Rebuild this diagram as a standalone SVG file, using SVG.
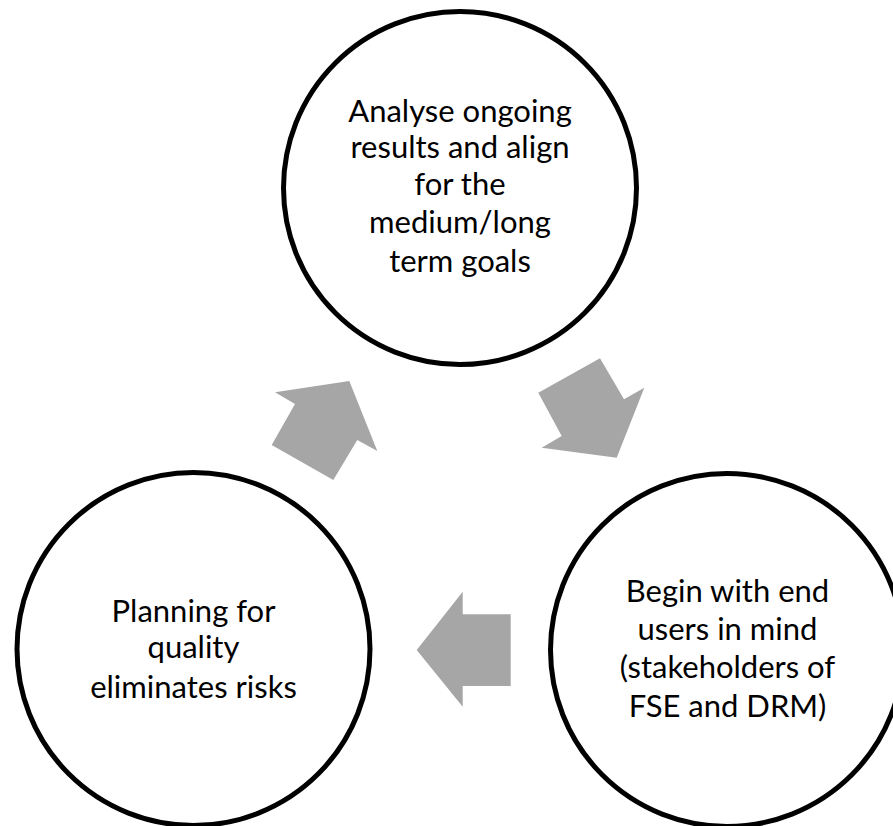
<svg xmlns="http://www.w3.org/2000/svg" width="893" height="826" viewBox="0 0 893 826">
<style>
.node circle{fill:#fff;stroke:#000;stroke-width:5}
.label{font-family:Lato,"Open Sans",sans-serif;font-size:31px;fill:#000;text-anchor:middle}
.arrow{fill:#a6a6a6;stroke:none}
</style>
<rect width="893" height="826" fill="#fff"/>
<g id="connectors">
<polygon class="arrow" points="275,392.3 349.3,381 377.3,451 357.3,440 333.3,480 271.7,445 295,404"/>
<polygon class="arrow" points="600,358.3 624,399.3 644.3,387.7 616.7,457.7 541.7,447.7 561.7,436 538.3,392.7"/>
<polygon class="arrow" points="416.7,650 462.7,591.7 462.7,614.3 510.7,614.3 510.7,686 462.7,686 462.7,706.7"/>
</g>
<g id="node-analyse" class="node">
<circle cx="460" cy="188" r="176.5"/>
<text class="label"><tspan x="460" y="121.7">Analyse ongoing</tspan><tspan x="460" y="158.3">results and align</tspan><tspan x="460" y="195">for the</tspan><tspan x="460" y="233.3">medium/long</tspan><tspan x="460" y="271.7">term goals</tspan></text>
</g>
<g id="node-begin" class="node">
<circle cx="727" cy="650" r="176.5"/>
<text class="label"><tspan x="727.5" y="601.7">Begin with end</tspan><tspan x="727.5" y="640">users in mind</tspan><tspan x="727.5" y="678.3">(stakeholders of</tspan><tspan x="727.5" y="716.7">FSE and DRM)</tspan></text>
</g>
<g id="node-planning" class="node">
<circle cx="193.5" cy="649" r="176.5"/>
<text class="label"><tspan x="193.5" y="621.7">Planning for</tspan><tspan x="193.5" y="658.3">quality</tspan><tspan x="193.5" y="698.3">eliminates risks</tspan></text>
</g>
</svg>
